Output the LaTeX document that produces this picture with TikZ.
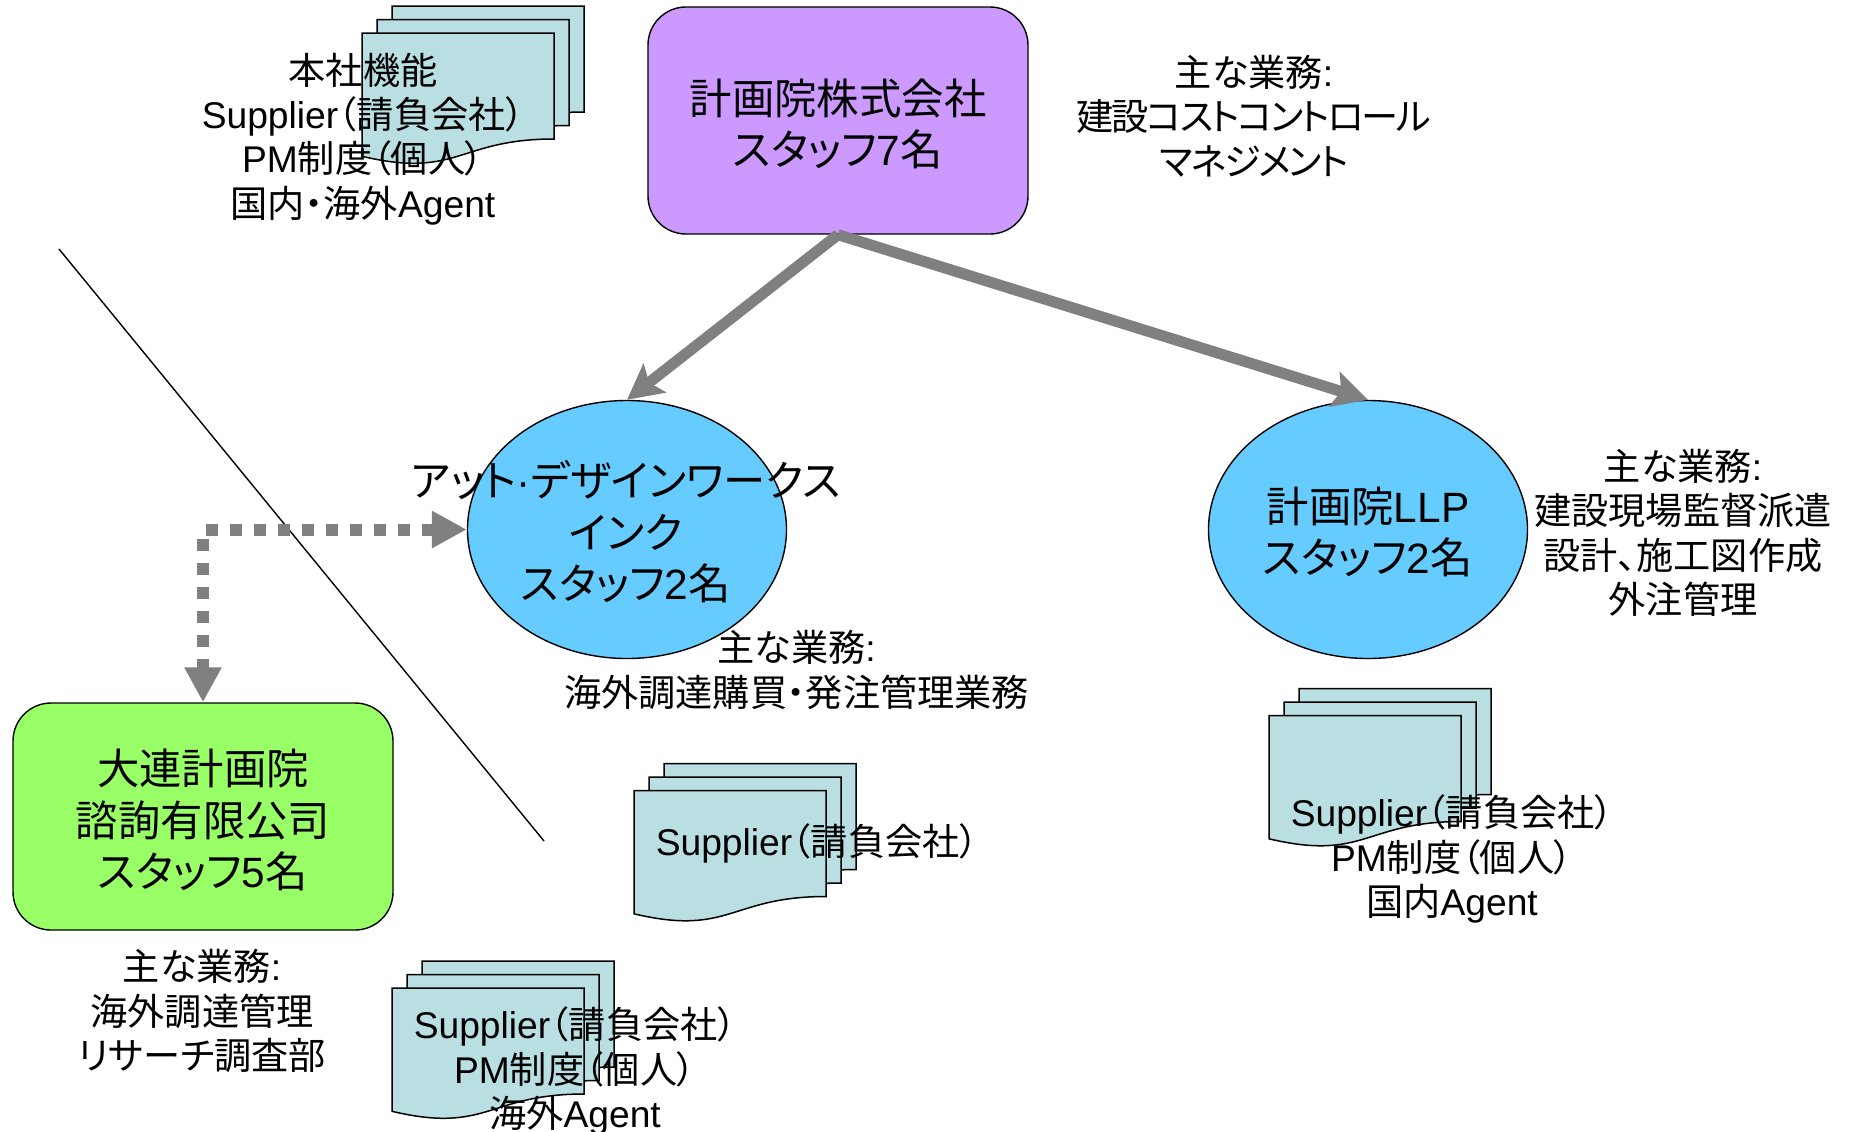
\documentclass[tikz,border=0pt]{standalone}
\usepackage{fontspec}
\setmainfont[RawFeature=+palt]{Noto Sans CJK JP}
\newfontfamily\latinface{Liberation Sans}
\newfontfamily\tightkana[RawFeature=+palt,LetterSpace=-6]{Noto Sans CJK JP}
\newcommand{\lat}[1]{{\latinface #1}}
\usetikzlibrary{arrows.meta,shapes.geometric}
\definecolor{docfill}{HTML}{B9DFE3}
\definecolor{purplefill}{HTML}{CC99FF}
\definecolor{bluefill}{HTML}{66CCFF}
\definecolor{greenfill}{HTML}{99FF66}
\definecolor{arrowgray}{HTML}{808080}
\tikzset{
  x=.5pt,y=-.5pt,
  bigtext/.style={font=\fontsize{21.2pt}{25.7pt}\selectfont,align=center,text=black,inner sep=0pt},
  smalltext/.style={font=\fontsize{18.6pt}{22.2pt}\selectfont,align=center,text=black,inner sep=0pt},
  roundbox/.style={draw=black,line width=.7pt,rounded corners=19pt,minimum width=190pt,minimum height=113.5pt,inner sep=0pt},
  ovalbox/.style={ellipse,draw=black,line width=.7pt,fill=bluefill,minimum width=159.5pt,minimum height=129pt,inner sep=0pt},
  mainarrow/.style={draw=arrowgray,line width=5.5pt,-{Stealth[length=17.5pt,width=18pt,inset=3.5pt]}},
  linkarrow/.style={draw=arrowgray,line width=6pt,dash pattern=on 6pt off 6pt,{Triangle[length=17.5pt,width=17.5pt]}-{Triangle[length=17.5pt,width=17.5pt]}},
  docpage/.pic={
    \draw[fill=docfill,draw=black,line width=.75pt]
      (0,0) -- (192,0) -- (192,106) .. controls (96,106) and (96,146) .. (0,123.3) -- cycle;
  },
  docstack/.pic={
    \pic at (30,-27) {docpage};
    \pic at (15,-13.5) {docpage};
    \pic at (0,0) {docpage};
  }
}
\begin{document}
\begin{tikzpicture}
\useasboundingbox (0,0) rectangle (1852,1131);

\pic at (362,33) {docstack};
\pic at (634,790.5) {docstack};
\pic at (1269,715.5) {docstack};
\pic at (392,988) {docstack};

\coordinate (dividerA) at (59,249);
\coordinate (dividerB) at (544,841);
\draw[black,line width=.7pt] (dividerA) -- (dividerB);

\node[roundbox,fill=purplefill] (hq) at (838,120.5) {};
\node[ovalbox] (atd) at (627,529.5) {};
\node[ovalbox] (llp) at (1368,529.5) {};
\node[roundbox,fill=greenfill] (dalian) at (203,816.5) {};

\draw[mainarrow] (hq.south) -- (atd.north);
\draw[mainarrow] (hq.south) -- (llp.north);
\draw[linkarrow] (atd.west) -| (dalian.north);

\node[bigtext] (hqname) at (838,124) {計画院株式会社\\スタッフ\lat{7}名};
\node[bigtext] (atdname) at (626,532) {アット\lat{·}デザインワークス\\インク\\スタッフ\lat{2}名};
\node[bigtext] (llpname) at (1368,532) {計画院\lat{LLP}\\スタッフ\lat{2}名};
\node[bigtext] (dalianname) at (203,820) {大連計画院\\諮詢有限公司\\スタッフ\lat{5}名};

\node[smalltext] (hqdocs) at (363,139) {本社機能\\\lat{Supplier}（請負会社）\\\lat{PM}制度（個人）\\国内・海外\lat{Agent}};
\node[smalltext] (hqwork) at (1254,116) {主な業務\lat{:}\\{\tightkana 建設コストコントロール}\\{\tightkana マネジメント}};
\node[smalltext] (llpwork) at (1683,533) {主な業務\lat{:}\\建設現場監督派遣\\設計、施工図作成\\外注管理};
\node[smalltext] (atdwork) at (796.5,670) {主な業務\lat{:}\\海外調達購買・発注管理業務};
\node[smalltext] (atddocs) at (817,843) {\lat{Supplier}（請負会社）};
\node[smalltext] (llpdocs) at (1452,859) {\lat{Supplier}（請負会社）\\\lat{PM}制度（個人）\\国内\lat{Agent}};
\node[smalltext] (dalianwork) at (202,1011) {主な業務\lat{:}\\海外調達管理\\リサーチ調査部};
\node[smalltext] (daliandocs) at (575,1071) {\lat{Supplier}（請負会社）\\\lat{PM}制度（個人）\\海外\lat{Agent}};
\end{tikzpicture}
\end{document}
